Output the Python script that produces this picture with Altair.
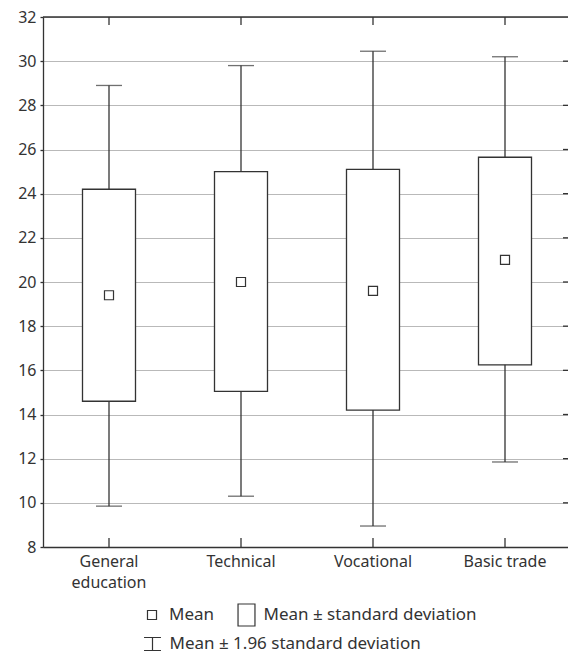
import altair as alt
import pandas as pd

# Score summary per school type: mean, mean ± SD and mean ± 1.96 SD
groups = ["General education", "Technical", "Vocational", "Basic trade"]
means = [19.4, 20.0, 19.6, 21.0]
sd_low = [14.6, 15.05, 14.2, 16.25]
sd_high = [24.2, 25.0, 25.1, 25.65]
ci_low = [9.85, 10.3, 8.95, 11.85]
ci_high = [28.9, 29.8, 30.45, 30.2]

y_ticks = [8, 10, 12, 14, 16, 18, 20, 22, 24, 26, 28, 30, 32]
inner_ticks = [10, 12, 14, 16, 18, 20, 22, 24, 26, 28, 30]

label_mean = "Mean"
label_sd = "Mean ± standard deviation"
label_ci = "Mean ± 1.96 standard deviation"

# legend glyphs as unit-box SVG paths
path_mean = "M-0.41,-0.41 H0.41 V0.41 H-0.41 Z"
path_box = "M-0.77,-1 H0.77 V1 H-0.77 Z"
path_whisker = "M-0.77,-0.59 H0.77 M0,-0.59 V0.59 M-0.77,0.59 H0.77"

INK = "#333333"
FONT = "Noto Sans"
FS = 16
LEGEND_FS = 17
W, H = 525, 530

df = pd.DataFrame({
    "group": groups,
    "mean": means,
    "sd_low": sd_low,
    "sd_high": sd_high,
    "ci_low": ci_low,
    "ci_high": ci_high,
    "kind_mean": [label_mean] * len(groups),
    "kind_sd": [label_sd] * len(groups),
    "kind_ci": [label_ci] * len(groups),
})
ticks_df = pd.DataFrame({"v": inner_ticks})

x_scale = alt.Scale(domain=groups, range=[0, 528], paddingInner=0, paddingOuter=0)
y_scale = alt.Scale(domain=[8, 32], nice=False, zero=False)

x_enc = alt.X(
    "group:N",
    scale=x_scale,
    sort=groups,
    axis=alt.Axis(
        title=None,
        labelAngle=0,
        ticks=False,
        domain=True,
        domainColor=INK,
        domainWidth=1.3,
        labelPadding=6,
        labelLineHeight=21,
        labelExpr="datum.label == 'General education' ? ['General', 'education'] : datum.label",
    ),
)
y_axis = alt.Axis(
    title=None,
    values=y_ticks,
    grid=True,
    gridColor="#b9b9b9",
    gridWidth=1,
    domain=True,
    domainColor=INK,
    domainWidth=1.3,
    tickColor=INK,
    tickSize=3,
    tickWidth=1.3,
    labelPadding=4,
)


def legend_at(x, y, symbol):
    return alt.Legend(
        title=None,
        orient="none",
        legendX=x,
        legendY=y,
        direction="horizontal",
        padding=0,
        symbolType=symbol,
        symbolSize=484,
        symbolStrokeColor=INK,
        symbolStrokeWidth=1.2,
        symbolFillColor="white",
        symbolDash=[1, 0],
        labelOffset=5,
        labelFont=FONT,
        labelFontSize=LEGEND_FS,
        labelColor=INK,
        labelLimit=400,
    )


base = alt.Chart(df)

whiskers = base.mark_rule(color=INK, strokeWidth=1.3).encode(
    x=x_enc,
    y=alt.Y("ci_low:Q", scale=y_scale, axis=y_axis),
    y2="ci_high:Q",
    strokeDash=alt.StrokeDash(
        "kind_ci:N",
        scale=alt.Scale(domain=[label_ci], range=[[1, 0]]),
        legend=legend_at(97.5, 615, path_whisker),
    ),
)
caps_top = base.mark_tick(color=INK, size=26, thickness=1.3).encode(
    x=x_enc, y=alt.Y("ci_high:Q", scale=y_scale)
)
caps_bottom = base.mark_tick(color=INK, size=26, thickness=1.3).encode(
    x=x_enc, y=alt.Y("ci_low:Q", scale=y_scale)
)
boxes = base.mark_bar(fill="white", strokeWidth=1.3, size=53).encode(
    x=x_enc,
    y=alt.Y("sd_low:Q", scale=y_scale),
    y2="sd_high:Q",
    stroke=alt.Stroke(
        "kind_sd:N",
        scale=alt.Scale(domain=[label_sd], range=[INK]),
        legend=legend_at(191.5, 586, path_box),
    ),
)
mean_pts = base.mark_point(filled=False, color=INK, strokeWidth=1.2, size=484, opacity=1).encode(
    x=x_enc,
    y=alt.Y("mean:Q", scale=y_scale),
    shape=alt.Shape(
        "kind_mean:N",
        scale=alt.Scale(domain=[label_mean], range=[path_mean]),
        legend=legend_at(97, 586, path_mean),
    ),
)

# frame: top border, inward category ticks on top/bottom, inward value ticks on the right
top_border = alt.Chart(pd.DataFrame({"a": [0]})).mark_rule(color=INK, strokeWidth=1.3).encode(
    x=alt.value(0), x2=alt.value(W), y=alt.value(0)
)
top_ticks = base.mark_rule(color=INK, strokeWidth=1.3).encode(
    x=x_enc, y=alt.value(0), y2=alt.value(8)
)
bottom_ticks = base.mark_rule(color=INK, strokeWidth=1.3).encode(
    x=x_enc, y=alt.value(H), y2=alt.value(H - 9)
)
right_ticks = alt.Chart(ticks_df).mark_rule(color=INK, strokeWidth=1.3).encode(
    y=alt.Y("v:Q", scale=y_scale), x=alt.value(W - 5), x2=alt.value(W)
)

chart = alt.layer(
    whiskers, caps_top, caps_bottom, boxes, mean_pts,
    top_border, top_ticks, bottom_ticks, right_ticks,
).properties(
    width=W,
    height=H,
    padding={"left": 43, "top": 17, "right": 0, "bottom": 106},
    autosize=alt.AutoSizeParams(type="none"),
    background="white",
).configure_view(
    stroke=None
).configure_axis(
    labelFont=FONT,
    labelFontSize=FS,
    labelColor=INK,
)

chart.save("out.html", embed_options={"renderer": "svg", "actions": False})
